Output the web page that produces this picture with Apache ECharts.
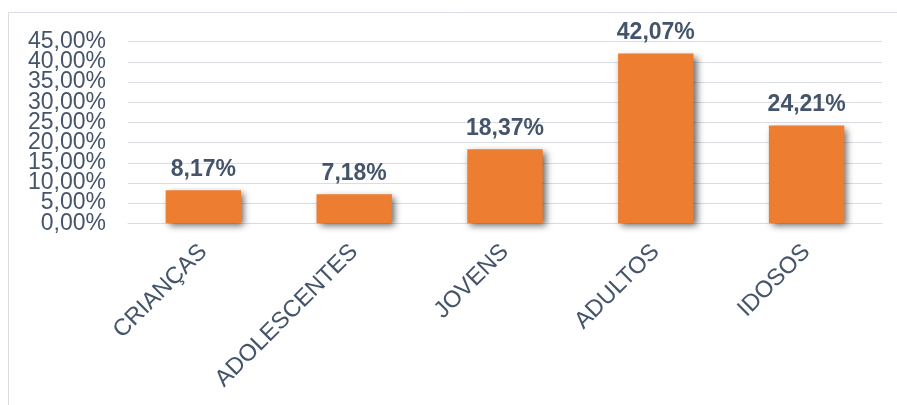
<!DOCTYPE html>
<html>
<head>
<meta charset="utf-8">
<script src="https://cdn.jsdelivr.net/npm/echarts@6/dist/echarts.min.js"></script>
<style>
  html, body { margin: 0; padding: 0; background: #ffffff; }
  #chart { width: 897px; height: 405px; }
</style>
</head>
<body>
<div id="chart"></div>
<script>
// Faixas etárias e percentuais
const categories = ['CRIANÇAS', 'ADOLESCENTES', 'JOVENS', 'ADULTOS', 'IDOSOS'];
const values = [8.17, 7.18, 18.37, 42.07, 24.21];
const yTicks = [0, 5, 10, 15, 20, 25, 30, 35, 40, 45];

const textColor = '#44546a';
const fontFamily = 'Liberation Sans, Arial, sans-serif';
const fmt = v => v.toFixed(2).replace('.', ',') + '%';

const chart = echarts.init(document.getElementById('chart'), null, { renderer: 'canvas' });
chart.setOption({
  animation: false,
  backgroundColor: '#ffffff',
  textStyle: { fontFamily: fontFamily },
  graphic: [
    { type: 'line', shape: { x1: 8.5, y1: 12.5, x2: 897, y2: 12.5 }, style: { stroke: '#d9dde3', lineWidth: 1 } },
    { type: 'line', shape: { x1: 8.5, y1: 12.5, x2: 8.5, y2: 405 }, style: { stroke: '#d9dde3', lineWidth: 1 } }
  ],
  grid: { left: 128, right: 15, top: 41.7, bottom: 181.7, containLabel: false },
  xAxis: [{
    type: 'category',
    data: categories,
    axisLine: { show: true, lineStyle: { color: '#d9dde3', width: 1 } },
    axisTick: { show: false },
    axisLabel: {
      rotate: 45,
      interval: 0,
      margin: 25,
      color: textColor,
      fontSize: 23.5,
      fontFamily: fontFamily
    }
  }, {
    // helper axis: anchors the densely packed percentage tick labels at the grid's left edge
    type: 'value',
    min: 0,
    max: 1,
    show: false
  }],
  yAxis: {
    type: 'value',
    min: yTicks[0],
    max: yTicks[yTicks.length - 1],
    interval: 5,
    axisLine: { show: false },
    axisTick: { show: false },
    axisLabel: { show: false },
    splitLine: { lineStyle: { color: '#d9dde3', width: 1 } }
  },
  series: [{
    type: 'bar',
    data: values,
    barWidth: '50%',
    itemStyle: {
      color: '#ed7d31',
      shadowColor: 'rgba(0,0,0,0.6)',
      shadowBlur: 7,
      shadowOffsetX: 3,
      shadowOffsetY: 3
    },
    label: {
      show: true,
      position: 'top',
      distance: 9,
      color: textColor,
      fontSize: 23,
      fontWeight: 'bold',
      fontFamily: fontFamily,
      formatter: p => fmt(p.value)
    }
  }, {
    // y tick labels, placed by the y scale (kept all visible even though they overlap)
    type: 'scatter',
    xAxisIndex: 1,
    silent: true,
    symbolSize: 0,
    itemStyle: { opacity: 1 },
    data: yTicks.map(v => [0, v]),
    label: {
      show: true,
      position: 'left',
      distance: 22,
      color: textColor,
      fontSize: 23,
      fontFamily: fontFamily,
      formatter: p => fmt(p.value[1])
    },
    labelLayout: { hideOverlap: false }
  }]
});
</script>
</body>
</html>
